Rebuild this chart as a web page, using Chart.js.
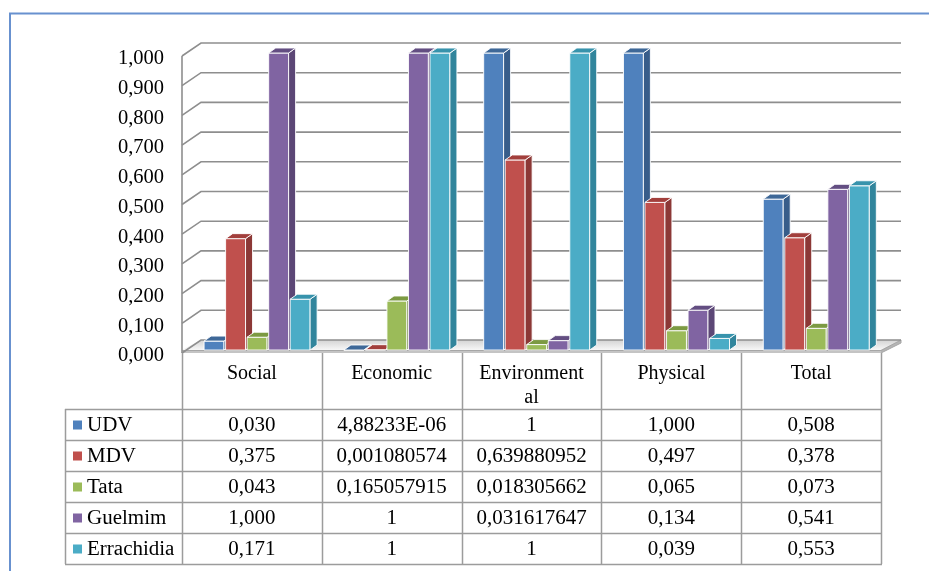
<!DOCTYPE html>
<html><head><meta charset="utf-8">
<script src="https://cdn.jsdelivr.net/npm/chart.js@4"></script>
<style>html,body{margin:0;padding:0;background:#fff;overflow:hidden}#wrap{width:929px;height:571px;position:relative}</style>
</head><body><div id="wrap"><canvas id="c" width="929" height="571"></canvas></div>
<script>
// ---- data ----
const categoryLabels = ['Social', 'Economic', ['Environment', 'al'], 'Physical', 'Total'];
const columnFormats = ['fixed3', 'general', 'general', 'fixed3', 'fixed3'];
const seriesNames = ['UDV', 'MDV', 'Tata', 'Guelmim', 'Errachidia'];
const udv = [0.030, 0.00000488233, 1, 1.000, 0.508];
const mdv = [0.375, 0.001080574, 0.639880952, 0.497, 0.378];
const tata = [0.043, 0.165057915, 0.018305662, 0.065, 0.073];
const guelmim = [1.000, 1, 0.031617647, 0.134, 0.541];
const errachidia = [0.171, 1, 1, 0.039, 0.553];
const yTicks = [0, 0.1, 0.2, 0.3, 0.4, 0.5, 0.6, 0.7, 0.8, 0.9, 1.0];

// ---- styles ----
const seriesColors = ['#4F81BD', '#C0504D', '#9BBB59', '#8064A2', '#4BACC6'];
const sideColors = ['#385D8A', '#8C3836', '#71893F', '#5C4776', '#31859C'];
const topColors = ['#3E6898', '#A23F3C', '#7C9A42', '#634E82', '#3793AC'];
const FONT = "'Times New Roman', 'Liberation Serif', serif";
const seriesData = [udv, mdv, tata, guelmim, errachidia];

function fmt(v, f) {
  if (f === 'fixed3') return v.toFixed(3).replace('.', ',');
  if (v !== 0 && Math.abs(v) < 1e-4) {
    const parts = v.toExponential(5).split('e');
    const ex = parseInt(parts[1], 10);
    return parts[0].replace('.', ',') + 'E' + (ex < 0 ? '-' : '+') + String(Math.abs(ex)).padStart(2, '0');
  }
  return String(v).replace('.', ',');
}

const DEPTH_X = 19, FRONT_OFF = 3, BACK_OFF = -10;
const BAR_SHIFT = 6, BAR_DX = 7, BAR_DY = 5;
const ROW_TOP = 409, ROW_H = 31, LEG_LEFT = 65;

const plugin3d = {
  id: 'plugin3d',
  beforeDatasetsDraw(chart) {
    const { ctx, chartArea: a, scales: { y } } = chart;
    ctx.save();
    // floor
    const fy = y.getPixelForValue(0);
    const by = fy + BACK_OFF;
    const g = ctx.createLinearGradient(0, by, 0, fy);
    g.addColorStop(0, '#d4d4d4'); g.addColorStop(1, '#f7f7f7');
    ctx.fillStyle = g;
    ctx.beginPath();
    ctx.moveTo(a.left, fy); ctx.lineTo(a.right, fy);
    ctx.lineTo(a.right + DEPTH_X + 1, by); ctx.lineTo(a.left + DEPTH_X, by); ctx.closePath();
    ctx.fill();
    ctx.fillStyle = '#c4c4c4';
    ctx.fillRect(a.left, fy, a.width, 3);
    ctx.beginPath();
    ctx.moveTo(a.right, fy); ctx.lineTo(a.right + DEPTH_X + 1, by);
    ctx.lineTo(a.right + DEPTH_X + 1, by + 3); ctx.lineTo(a.right, fy + 3); ctx.closePath();
    ctx.fillStyle = '#b5b5b5'; ctx.fill();
    ctx.strokeStyle = '#a6a6a6'; ctx.lineWidth = 1;
    ctx.beginPath();
    ctx.moveTo(a.left, fy + 0.5); ctx.lineTo(a.right, fy + 0.5); ctx.lineTo(a.right + DEPTH_X + 1, by);
    ctx.lineTo(a.right + DEPTH_X + 1, by + 3); ctx.lineTo(a.right, fy + 3);
    ctx.stroke();
    // gridlines (left wall + back wall)
    ctx.strokeStyle = '#8e8e8e'; ctx.lineWidth = 1.6;
    yTicks.forEach(v => {
      const p = y.getPixelForValue(v);
      const yf = v === 0 ? fy + 3 : p + FRONT_OFF;
      const yb = p + BACK_OFF;
      ctx.beginPath();
      ctx.moveTo(a.left, yf); ctx.lineTo(a.left + DEPTH_X, yb); ctx.lineTo(a.right + DEPTH_X + 1, yb);
      ctx.stroke();
    });
    // front axis
    ctx.beginPath();
    ctx.moveTo(a.left, y.getPixelForValue(1) + FRONT_OFF);
    ctx.lineTo(a.left, fy + 3);
    ctx.stroke();
    ctx.restore();
  },
  beforeDatasetDraw() { return false; },
  afterDatasetsDraw(chart) {
    const { ctx } = chart;
    ctx.save();
    ctx.lineWidth = 1; ctx.strokeStyle = 'rgba(255,255,255,0.9)'; ctx.lineJoin = 'round';
    const n = chart.data.labels.length;
    for (let i = 0; i < n; i++) {
      chart.data.datasets.forEach((ds, d) => {
        const el = chart.getDatasetMeta(d).data[i];
        const L = el.x - el.width / 2 + BAR_SHIFT;
        const W = el.width - 1.6;
        const R = L + W, T = el.y, B = el.base;
        // front
        ctx.fillStyle = seriesColors[d];
        ctx.beginPath(); ctx.rect(L, T, W, B - T); ctx.fill(); ctx.stroke();
        // side
        ctx.fillStyle = sideColors[d];
        ctx.beginPath();
        ctx.moveTo(R, T); ctx.lineTo(R + BAR_DX, T - BAR_DY); ctx.lineTo(R + BAR_DX, B - BAR_DY); ctx.lineTo(R, B); ctx.closePath();
        ctx.fill(); ctx.stroke();
        // top
        ctx.fillStyle = topColors[d];
        ctx.beginPath();
        ctx.moveTo(L, T); ctx.lineTo(L + BAR_DX, T - BAR_DY); ctx.lineTo(R + BAR_DX, T - BAR_DY); ctx.lineTo(R, T); ctx.closePath();
        ctx.fill(); ctx.stroke();
      });
    }
    ctx.restore();
  },
  afterDraw(chart) {
    const { ctx, chartArea: a, scales: { x, y } } = chart;
    const fy = y.getPixelForValue(0);
    const n = chart.data.labels.length;
    const colW = a.width / n;
    const rows = seriesNames.length;
    const tableBottom = ROW_TOP + ROW_H * rows;
    ctx.save();
    // table lines
    ctx.strokeStyle = '#9c9c9c'; ctx.lineWidth = 1.5;
    ctx.beginPath();
    for (let k = 0; k <= n; k++) {
      const xx = Math.round(a.left + k * colW) + 0.5;
      ctx.moveTo(xx, fy + 3); ctx.lineTo(xx, tableBottom);
    }
    ctx.moveTo(LEG_LEFT + 0.5, ROW_TOP); ctx.lineTo(LEG_LEFT + 0.5, tableBottom);
    for (let r = 0; r <= rows; r++) {
      const yy = ROW_TOP + r * ROW_H + 0.5;
      ctx.moveTo(LEG_LEFT, yy); ctx.lineTo(a.right + 1, yy);
    }
    ctx.stroke();
    // table text (slightly widened, as in the reference)
    ctx.font = '20px ' + FONT;
    ctx.textBaseline = 'middle';
    const drawText = (t, tx, ty, align) => {
      ctx.save(); ctx.translate(tx, ty); ctx.scale(1.05, 1);
      ctx.textAlign = align; ctx.fillText(t, 0, 0); ctx.restore();
    };
    seriesNames.forEach((name, s) => {
      const yc = ROW_TOP + s * ROW_H + ROW_H / 2 + 1;
      ctx.fillStyle = seriesColors[s];
      ctx.fillRect(LEG_LEFT + 8, yc - 5, 9, 9);
      ctx.fillStyle = '#000';
      drawText(name, LEG_LEFT + 22, yc, 'left');
      seriesData[s].forEach((v, i) => {
        drawText(fmt(v, columnFormats[i]), x.getPixelForValue(i), yc, 'center');
      });
    });
    // outer frame
    ctx.strokeStyle = '#6891CF'; ctx.lineWidth = 2;
    ctx.beginPath();
    ctx.moveTo(10, 571); ctx.lineTo(10, 13.5); ctx.lineTo(929, 13.5);
    ctx.stroke();
    ctx.restore();
  }
};

new Chart(document.getElementById('c'), {
  type: 'bar',
  data: {
    labels: categoryLabels,
    datasets: seriesNames.map((name, d) => ({
      label: name,
      data: seriesData[d],
      backgroundColor: seriesColors[d],
      barPercentage: 1,
      categoryPercentage: 0.77
    }))
  },
  options: {
    responsive: false,
    animation: false,
    devicePixelRatio: 1,
    layout: { padding: { left: 0, right: 48, top: 53, bottom: 0 } },
    plugins: { legend: { display: false }, tooltip: { enabled: false } },
    scales: {
      x: {
        grid: { display: false, drawTicks: false },
        border: { display: false },
        ticks: { font: { family: FONT, size: 20 }, color: '#000', padding: 12, maxRotation: 0, minRotation: 0, autoSkip: false },
        afterFit(s) { s.height = 221; }
      },
      y: {
        min: 0, max: 1,
        grid: { display: false, drawTicks: false },
        border: { display: false },
        ticks: {
          stepSize: 0.1,
          font: { family: FONT, size: 20.5 }, color: '#000', padding: 18, labelOffset: 6,
          callback: v => Number(v).toFixed(3).replace('.', ',')
        },
        afterFit(s) { s.width = 182; }
      }
    }
  },
  plugins: [plugin3d]
});
</script></body></html>
